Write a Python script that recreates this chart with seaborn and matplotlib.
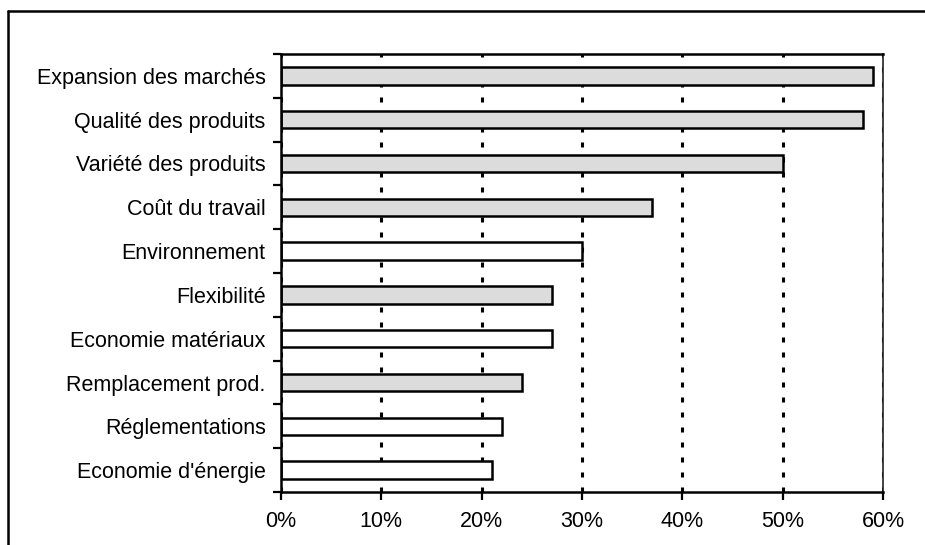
import matplotlib
matplotlib.use("Agg")
import matplotlib.pyplot as plt
from matplotlib.lines import Line2D
from matplotlib.ticker import PercentFormatter
import numpy as np
import pandas as pd
import seaborn as sns

# Reasons cited, share of firms (%)
categories = [
    "Expansion des marchés",
    "Qualité des produits",
    "Variété des produits",
    "Coût du travail",
    "Environnement",
    "Flexibilité",
    "Economie matériaux",
    "Remplacement prod.",
    "Réglementations",
    "Economie d'énergie",
]
values = [59, 58, 50, 37, 30, 27, 27, 24, 22, 21]
shaded = [True, True, True, True, False, True, False, True, False, False]

sns.set_theme(style="white")
plt.rcParams["font.family"] = ["Liberation Sans", "DejaVu Sans"]
plt.rcParams["lines.scale_dashes"] = False

df = pd.DataFrame({"motif": categories, "part": values})
palette = {c: ("#dcdcdc" if s else "white") for c, s in zip(categories, shaded)}

fig = plt.figure(figsize=(9.25, 5.45), dpi=100)
ax = fig.add_axes([281 / 925, 1 - 492 / 545, (883 - 281) / 925, (492 - 54) / 545])

sns.barplot(data=df, y="motif", x="part", hue="motif", palette=palette,
            order=categories, hue_order=categories, legend=False,
            width=0.4, edgecolor="black", linewidth=1.8, saturation=1, ax=ax)

ax.set_xlim(0, 60)
ax.set_ylim(len(categories) - 0.5, -0.5)
ax.set_xticks(np.arange(0, 61, 10))
ax.xaxis.set_major_formatter(PercentFormatter(decimals=0))
ax.set_xlabel("")
ax.set_ylabel("")

# dotted vertical gridlines behind the bars
ax.set_axisbelow(True)
ax.xaxis.grid(True, color="black", linewidth=2.2, linestyle=(0, (3.6, 7.2)))

# category ticks sit between the bars
ax.set_yticks(np.arange(-0.5, len(categories), 1), minor=True)
ax.tick_params(axis="y", which="major", length=0, pad=11, labelsize=15.5, colors="black")
ax.tick_params(axis="y", which="minor", left=True, length=6, width=1.6, color="black")
ax.tick_params(axis="x", which="major", bottom=True, length=6, width=1.6,
               color="black", pad=8, labelsize=15.5, labelcolor="black")

for side in ("left", "bottom", "top"):
    ax.spines[side].set_visible(True)
    ax.spines[side].set_color("black")
    ax.spines[side].set_linewidth(1.8)
ax.spines["right"].set_visible(True)
ax.spines["right"].set_color("#222222")
ax.spines["right"].set_linewidth(1.2)

# outer frame of the figure
fig.add_artist(Line2D([8 / 925, 1.0], [1 - 11 / 545, 1 - 11 / 545],
                      transform=fig.transFigure, color="black", linewidth=1.8))
fig.add_artist(Line2D([8 / 925, 8 / 925], [0.0, 1 - 11 / 545],
                      transform=fig.transFigure, color="black", linewidth=1.8))

fig.savefig("out.png", dpi=100)
